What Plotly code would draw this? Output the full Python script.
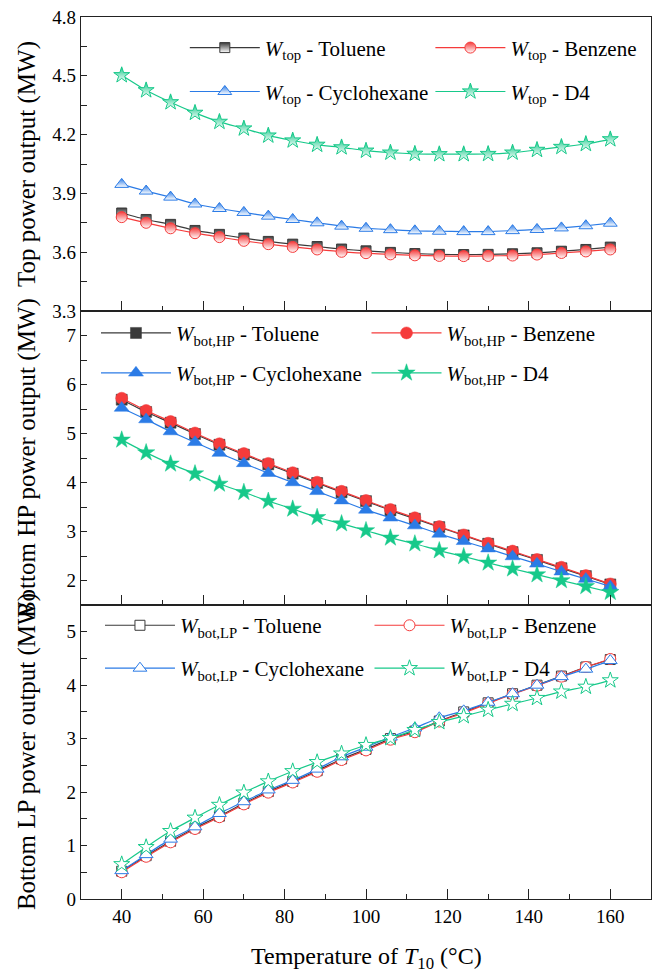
import plotly.graph_objects as go
from plotly.subplots import make_subplots

# ---------------- data ----------------
T10 = [40, 46, 52, 58, 64, 70, 76, 82, 88, 94, 100, 106, 112, 118, 124, 130, 136, 142, 148, 154, 160]

top_toluene = [3.80, 3.767, 3.742, 3.711, 3.691, 3.672, 3.655, 3.641, 3.629, 3.616, 3.607, 3.599, 3.593, 3.589,
               3.588, 3.589, 3.592, 3.597, 3.605, 3.614, 3.626]
top_benzene = [3.779, 3.75, 3.722, 3.697, 3.677, 3.658, 3.641, 3.627, 3.614, 3.602, 3.595, 3.589, 3.584, 3.581,
               3.580, 3.581, 3.583, 3.588, 3.596, 3.604, 3.614]
top_cyclohexane = [3.946, 3.912, 3.881, 3.846, 3.823, 3.803, 3.784, 3.767, 3.75, 3.733, 3.722, 3.715, 3.709, 3.707,
                   3.705, 3.705, 3.710, 3.716, 3.724, 3.735, 3.748]
top_d4 = [4.503, 4.426, 4.365, 4.311, 4.265, 4.231, 4.195, 4.170, 4.148, 4.135, 4.118, 4.108, 4.102, 4.100,
          4.100, 4.101, 4.108, 4.122, 4.137, 4.152, 4.176]

hp_toluene = [5.69, 5.44, 5.22, 4.99, 4.77, 4.57, 4.37, 4.18, 3.99, 3.80, 3.62, 3.43, 3.26, 3.09, 2.92, 2.75,
              2.58, 2.42, 2.25, 2.09, 1.92]
hp_benzene = [5.72, 5.47, 5.245, 5.01, 4.79, 4.59, 4.39, 4.20, 4.006, 3.82, 3.633, 3.45, 3.28, 3.10, 2.93, 2.76,
              2.60, 2.43, 2.27, 2.10, 1.93]
hp_cyclohexane = [5.52, 5.285, 5.04, 4.82, 4.60, 4.39, 4.19, 4.00, 3.82, 3.63, 3.44, 3.28, 3.12, 2.95, 2.80, 2.65,
                  2.49, 2.34, 2.18, 2.03, 1.88]
hp_d4 = [4.87, 4.61, 4.38, 4.18, 3.97, 3.80, 3.62, 3.46, 3.29, 3.16, 3.02, 2.87, 2.75, 2.61, 2.49, 2.36, 2.24,
         2.12, 2.00, 1.88, 1.76]

lp_toluene = [0.52, 0.81, 1.08, 1.33, 1.55, 1.79, 2.01, 2.20, 2.40, 2.62, 2.80, 3.00, 3.14, 3.33, 3.50, 3.67,
              3.84, 4.00, 4.17, 4.34, 4.48]
lp_benzene = [0.50, 0.79, 1.06, 1.31, 1.53, 1.77, 1.99, 2.18, 2.38, 2.60, 2.78, 2.98, 3.12, 3.32, 3.48, 3.66,
              3.83, 3.99, 4.16, 4.34, 4.49]
lp_cyclohexane = [0.53, 0.83, 1.12, 1.35, 1.60, 1.82, 2.04, 2.22, 2.43, 2.66, 2.84, 3.03, 3.20, 3.39, 3.52, 3.68,
                  3.84, 4.00, 4.16, 4.30, 4.46]
lp_d4 = [0.65, 0.97, 1.27, 1.52, 1.76, 1.99, 2.20, 2.39, 2.56, 2.72, 2.88, 3.01, 3.16, 3.31, 3.42, 3.54, 3.65,
         3.76, 3.88, 3.97, 4.09]

fluids = ["Toluene", "Benzene", "Cyclohexane", "D4"]
colors = {"Toluene": "#3a3a3a", "Benzene": "#f53b3b", "Cyclohexane": "#2b7be6", "D4": "#17c98a"}
symbols = {"Toluene": "square", "Benzene": "circle", "Cyclohexane": "triangle-up", "D4": "star"}
msize = {"Toluene": 10, "Benzene": 11, "Cyclohexane": 12, "D4": 12}

panels = [
    ("top", {"Toluene": top_toluene, "Benzene": top_benzene, "Cyclohexane": top_cyclohexane, "D4": top_d4}),
    ("bot,HP", {"Toluene": hp_toluene, "Benzene": hp_benzene, "Cyclohexane": hp_cyclohexane, "D4": hp_d4}),
    ("bot,LP", {"Toluene": lp_toluene, "Benzene": lp_benzene, "Cyclohexane": lp_cyclohexane, "D4": lp_d4}),
]

W, H = 659, 975
ML, MR, MT, MB = 81, 7, 15, 76
PW, PH = W - ML - MR, H - MT - MB


def px_x(p):
    return (p - ML) / PW


def px_y(p):
    return (H - MB - p) / PH


FONT = "Liberation Serif"

# legend placement per panel: (line start x of col1, col2), (row1 y, row2 y)
legend_layout = [((190, 436), (46, 90)), ((101, 372), (332, 372)), ((105, 375), (625, 668))]
legend_slot = {"Toluene": (0, 0), "Benzene": (1, 0), "Cyclohexane": (0, 1), "D4": (1, 1)}

fig = make_subplots(rows=3, cols=1, shared_xaxes=True, vertical_spacing=0)

layout_legends = {}
k = 0
for i, (sub, data) in enumerate(panels):
    row = i + 1
    for fl in fluids:
        c = colors[fl]
        if row == 1:
            marker = dict(symbol=symbols[fl], size=msize[fl], color=c,
                          gradient=dict(type="vertical", color="white"),
                          line=dict(color=c, width=1))
        elif row == 2:
            marker = dict(symbol=symbols[fl], size=msize[fl] + 1, color=c, line=dict(color=c, width=0.5))
        else:
            marker = dict(symbol=symbols[fl], size=msize[fl], color="white", line=dict(color=c, width=1))
        k += 1
        lname = "legend" if k == 1 else f"legend{k}"
        cx, ry = legend_slot[fl]
        lx = legend_layout[i][0][cx]
        ly = legend_layout[i][1][ry]
        layout_legends[lname] = dict(
            x=px_x(lx - 5), y=px_y(ly), xanchor="left", yanchor="middle",
            orientation="v", bgcolor="rgba(0,0,0,0)", borderwidth=0, itemwidth=70,
            font=dict(family=FONT, size=21, color="black"),
        )
        fig.add_trace(go.Scatter(
            x=T10, y=data[fl], mode="lines+markers",
            name=f"<i>W</i><sub>{sub}</sub> - {fl}",
            line=dict(color=c, width=1.2, shape="spline", smoothing=0.5),
            marker=marker, legend=lname, showlegend=True,
        ), row=row, col=1)

axis_line = dict(showline=True, linecolor="#222222", linewidth=1.2, mirror=True, showgrid=False, zeroline=False)

for r in (1, 2, 3):
    fig.update_xaxes(range=[30, 170], tick0=40, dtick=20, ticks="inside", ticklen=10, tickwidth=1.2,
                     tickcolor="#222222",
                     minor=dict(dtick=10, ticks="inside", ticklen=5, tickwidth=1.2, tickcolor="#222222"),
                     showticklabels=(r == 3), tickfont=dict(family=FONT, size=19, color="black"),
                     **axis_line, row=r, col=1)

fig.update_yaxes(range=[3.3, 4.8], tick0=3.3, dtick=0.3, tickformat=".1f",
                 minor=dict(dtick=0.15, ticks="inside", ticklen=6, tickwidth=1.2, tickcolor="#222222"),
                 row=1, col=1)
fig.update_yaxes(range=[1.5, 7.5], tick0=0, dtick=1,
                 minor=dict(dtick=0.5, ticks="inside", ticklen=6, tickwidth=1.2, tickcolor="#222222"),
                 row=2, col=1)
fig.update_yaxes(range=[0, 5.5], tick0=0, dtick=1,
                 minor=dict(dtick=0.5, ticks="inside", ticklen=6, tickwidth=1.2, tickcolor="#222222"),
                 row=3, col=1)
fig.update_yaxes(ticks="inside", ticklen=6, tickwidth=1.2, tickcolor="#222222",
                 tickfont=dict(family=FONT, size=19, color="black"), **axis_line)

ytitles = [("Top power output (MW)", 1), ("Bottom HP power output (MW)", 2), ("Bottom LP power output (MW)", 3)]
annotations = []
for txt, r in ytitles:
    annotations.append(dict(text=txt, xref="paper", yref="paper", x=px_x(27), y=(3 - r + 0.5) / 3,
                            textangle=-90, showarrow=False, xanchor="center", yanchor="middle",
                            font=dict(family=FONT, size=25, color="black")))
annotations.append(dict(text="Temperature of <i>T</i><sub>10</sub> (°C)", xref="paper", yref="paper",
                        x=0.5, y=px_y(958), showarrow=False, xanchor="center", yanchor="middle",
                        font=dict(family=FONT, size=24, color="black")))

fig.update_layout(
    width=W, height=H, margin=dict(l=ML, r=MR, t=MT, b=MB),
    plot_bgcolor="white", paper_bgcolor="white",
    annotations=annotations,
    **layout_legends,
)

fig.write_html("out.html")
